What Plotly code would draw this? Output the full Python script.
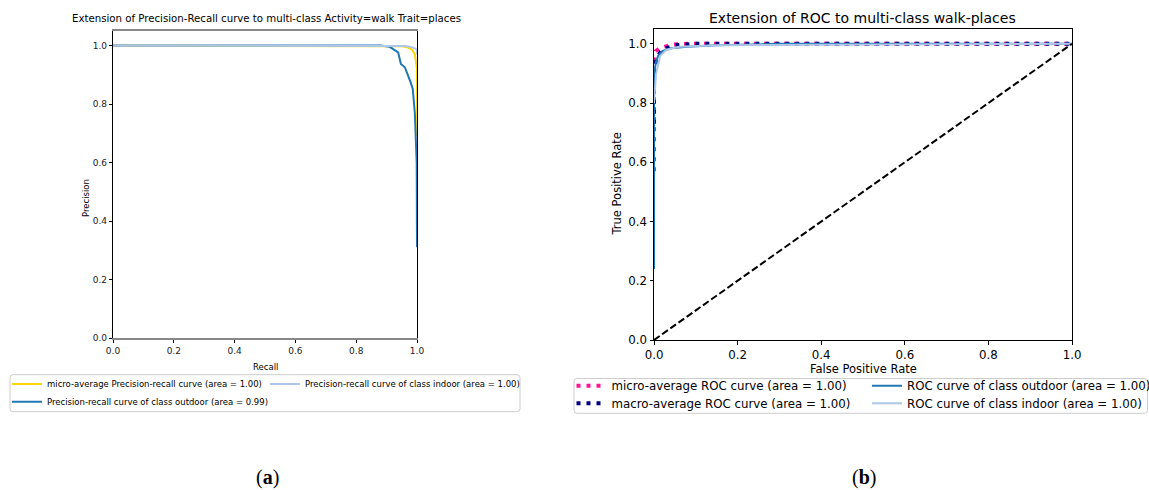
import plotly.graph_objects as go

# ---------------- data: Precision-Recall (left) ----------------
pr_micro_recall = [0.0, 0.50, 0.90, 0.95, 0.97, 0.983, 0.993, 1.0, 1.0, 1.0]
pr_micro_prec   = [1.0, 1.00, 1.00, 0.998, 0.994, 0.986, 0.97, 0.92, 0.80, 0.69]

pr_out_recall = [0.0, 0.50, 0.88, 0.91, 0.922, 0.938, 0.947, 0.960, 0.977, 0.986, 0.993, 0.999, 1.0]
pr_out_prec   = [1.0, 1.00, 1.00, 0.996, 0.989, 0.977, 0.937, 0.926, 0.880, 0.852, 0.768, 0.597, 0.31]

pr_in_recall = [0.0, 0.50, 0.90, 0.96, 0.98, 0.995, 1.0, 1.0]
pr_in_prec   = [1.0, 1.00, 1.00, 0.999, 0.995, 0.99, 0.985, 0.97]

# ---------------- data: ROC (right) ----------------
roc_micro_fpr = [0.0, 0.0, 0.004, 0.014, 0.042, 0.08, 1.0]
roc_micro_tpr = [0.57, 0.95, 0.975, 0.985, 0.997, 1.0, 1.0]

roc_macro_fpr = [0.0, 0.0, 0.005, 0.02, 0.05, 0.10, 1.0]
roc_macro_tpr = [0.73, 0.90, 0.95, 0.98, 0.995, 1.0, 1.0]

roc_out_fpr = [0.0, 0.0, 0.005, 0.01, 0.02, 0.04, 0.08, 0.15, 0.30, 1.0]
roc_out_tpr = [0.24, 0.90, 0.94, 0.96, 0.975, 0.985, 0.99, 0.995, 1.0, 1.0]

roc_in_fpr = [0.0, 0.005, 0.015, 0.03, 0.06, 0.15, 1.0]
roc_in_tpr = [0.80, 0.90, 0.96, 0.98, 0.99, 0.995, 1.0]

chance = [0.0, 1.0]

tick_vals = [0.0, 0.2, 0.4, 0.6, 0.8, 1.0]
tick_text = ["0.0", "0.2", "0.4", "0.6", "0.8", "1.0"]

names_pr = ["micro-average Precision-recall curve (area = 1.00)",
            "Precision-recall curve of class outdoor (area = 0.99)",
            "Precision-recall curve of class indoor (area = 1.00)"]
names_roc = ["micro-average ROC curve (area = 1.00)",
             "macro-average ROC curve (area = 1.00)",
             "ROC curve of class outdoor (area = 1.00)",
             "ROC curve of class indoor (area = 1.00)"]

W, H = 1149, 490
FONT = "DejaVu Sans"
L_FS = 8.5     # left panel small text
R_FS = 11.8    # right panel legend text


def fx(p):
    return p / W


def fy(p):
    return (H - p) / H


fig = go.Figure()

# left traces (draw order: micro, outdoor, indoor)
fig.add_trace(go.Scatter(x=pr_micro_recall, y=pr_micro_prec, mode="lines", name=names_pr[0],
                         line=dict(color="gold", width=2), xaxis="x", yaxis="y", legend="legend"))
fig.add_trace(go.Scatter(x=pr_out_recall, y=pr_out_prec, mode="lines", name=names_pr[1],
                         line=dict(color="#1f77b4", width=2), xaxis="x", yaxis="y", legend="legend2"))
fig.add_trace(go.Scatter(x=pr_in_recall, y=pr_in_prec, mode="lines", name=names_pr[2],
                         line=dict(color="#aec7e8", width=2), xaxis="x", yaxis="y", legend="legend3"))

# right traces
fig.add_trace(go.Scatter(x=roc_micro_fpr, y=roc_micro_tpr, mode="lines", name=names_roc[0],
                         line=dict(color="deeppink", width=4, dash="4px,6px"),
                         xaxis="x2", yaxis="y2", legend="legend4"))
fig.add_trace(go.Scatter(x=roc_macro_fpr, y=roc_macro_tpr, mode="lines", name=names_roc[1],
                         line=dict(color="navy", width=4, dash="4px,6px"),
                         xaxis="x2", yaxis="y2", legend="legend5"))
fig.add_trace(go.Scatter(x=roc_out_fpr, y=roc_out_tpr, mode="lines", name=names_roc[2],
                         line=dict(color="#1f77b4", width=2), xaxis="x2", yaxis="y2", legend="legend6"))
fig.add_trace(go.Scatter(x=roc_in_fpr, y=roc_in_tpr, mode="lines", name=names_roc[3],
                         line=dict(color="#aec7e8", width=2), xaxis="x2", yaxis="y2", legend="legend7"))
fig.add_trace(go.Scatter(x=chance, y=chance, mode="lines", showlegend=False,
                         line=dict(color="black", width=2, dash="7px,3px"), xaxis="x2", yaxis="y2"))


def leg(text_x, row_y, size):
    return dict(orientation="v", x=fx(text_x - 40), y=fy(row_y), xanchor="left", yanchor="middle",
                bgcolor="rgba(0,0,0,0)", borderwidth=0,
                font=dict(family=FONT, size=size, color="black"), itemwidth=30)


ax_left = dict(showgrid=False, zeroline=False, ticks="outside", ticklen=3, tickcolor="black",
               tickvals=tick_vals, ticktext=tick_text, tickfont=dict(family=FONT, size=9, color="#222"),
               mirror=True, showline=True)
ax_right = dict(showgrid=False, zeroline=False, ticks="outside", ticklen=3.5, tickcolor="black",
                tickvals=tick_vals, ticktext=tick_text, tickfont=dict(family=FONT, size=11.8, color="black"),
                mirror=True, showline=True, linecolor="black", linewidth=1)


def rounded_box(x0, y0, x1, y1, r=3):
    X0, X1 = fx(x0), fx(x1)
    Y0, Y1 = fy(y0), fy(y1)
    rx, ry = r / W, r / H
    return (f"M{X0 + rx},{Y0} L{X1 - rx},{Y0} Q{X1},{Y0} {X1},{Y0 - ry} "
            f"L{X1},{Y1 + ry} Q{X1},{Y1} {X1 - rx},{Y1} "
            f"L{X0 + rx},{Y1} Q{X0},{Y1} {X0},{Y1 + ry} "
            f"L{X0},{Y0 - ry} Q{X0},{Y0} {X0 + rx},{Y0} Z")


def note(text, x, y, size, family=FONT, angle=0):
    return dict(text=text, x=fx(x), y=fy(y), xref="paper", yref="paper", showarrow=False,
                font=dict(family=family, size=size, color="black"), xanchor="center",
                yanchor="middle", textangle=angle)


fig.update_layout(
    width=W, height=H, margin=dict(l=0, r=0, t=0, b=0, autoexpand=False),
    paper_bgcolor="white", plot_bgcolor="white",
    font=dict(family=FONT, color="black"),
    xaxis=dict(ax_left, domain=[fx(113), fx(417)], range=[0, 1], anchor="y",
               linecolor="#888888", linewidth=1.5),
    yaxis=dict(ax_left, domain=[fy(338), fy(31)], range=[0, 1.05], anchor="x",
               linecolor="black", linewidth=1.2),
    xaxis2=dict(ax_right, domain=[fx(654), fx(1072)], range=[0, 1], anchor="y2"),
    yaxis2=dict(ax_right, domain=[fy(340), fy(29)], range=[0, 1.05], anchor="x2"),
    legend=leg(47, 384, L_FS),
    legend2=leg(47, 401.7, L_FS),
    legend3=leg(305, 384, L_FS),
    legend4=leg(611.5, 385.7, R_FS),
    legend5=leg(611.5, 403.3, R_FS),
    legend6=leg(907, 385.7, R_FS),
    legend7=leg(907, 403.3, R_FS),
    shapes=[
        dict(type="path", xref="paper", yref="paper", path=rounded_box(10, 374.7, 520, 411.7),
             line=dict(color="#cccccc", width=1), fillcolor="rgba(255,255,255,0)", layer="below"),
        dict(type="path", xref="paper", yref="paper", path=rounded_box(574, 378.5, 1147.5, 413.3),
             line=dict(color="#cccccc", width=1), fillcolor="rgba(255,255,255,0)", layer="below"),
    ],
    annotations=[
        note("Extension of Precision-Recall curve to multi-class Activity=walk Trait=places", 266, 18, 10.2),
        note("Extension of ROC to multi-class walk-places", 862.5, 18, 14),
        note("Recall", 265, 367, L_FS),
        note("Precision", 86, 198, L_FS, angle=-90),
        note("False Positive Rate", 863, 369, 11.5),
        note("True Positive Rate", 617, 184.5, 11.5, angle=-90),
        note("(<b>a</b>)", 267, 477, 20, family="Liberation Serif"),
        note("(<b>b</b>)", 864, 477, 20, family="Liberation Serif"),
    ],
)

fig.write_html("out.html", config={"displayModeBar": False},
               post_script="document.body.style.margin='0px';")
